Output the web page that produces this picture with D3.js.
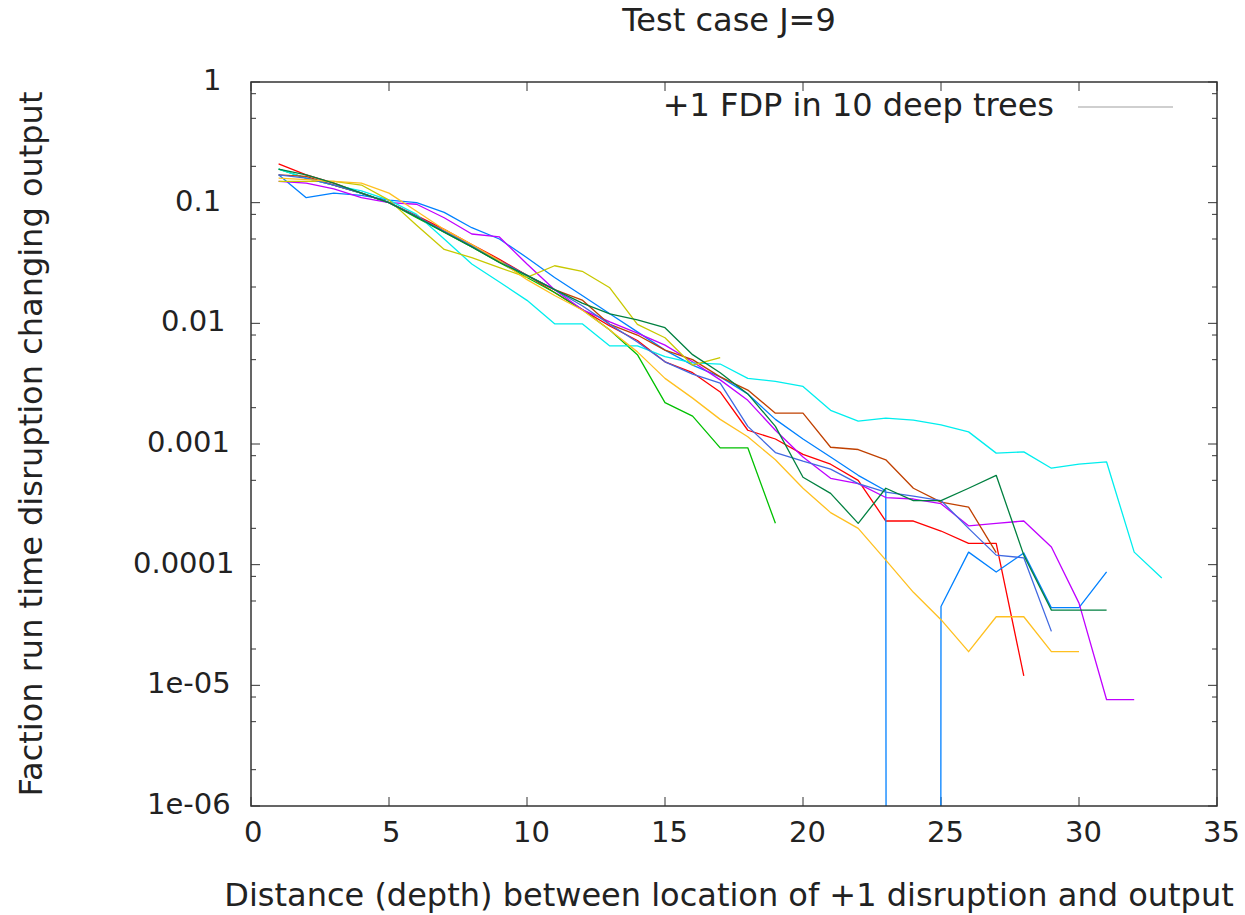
<!DOCTYPE html>
<html>
<head>
<meta charset="utf-8">
<script src="https://cdn.jsdelivr.net/npm/d3@7"></script>
<style>
  body { margin: 0; background: #fff; }
  svg text { font-family: "DejaVu Sans", sans-serif; fill: #222; }
</style>
</head>
<body>
<div id="chart"></div>
<script>
// depth (x) and fraction values for each of the 10 trees
var depths = [1,2,3,4,5,6,7,8,9,10,11,12,13,14,15,16,17,18,19,20,21,22,23,24,25,26,27,28,29,30,31,32,33]

var redVals = [0.21,0.17,0.145,0.12,0.10,0.078,0.06,0.045,0.034,0.025,0.018,0.013,0.0095,0.0072,0.0048,0.0039,0.0027,0.0013,0.0011,0.00082,0.00068,0.0005,0.00023,0.00023,0.00019,0.00015,0.00015,0.000012]
var greenVals = [0.19,0.16,0.14,0.12,0.10,0.075,0.057,0.043,0.032,0.024,0.018,0.013,0.0088,0.0055,0.0022,0.0017,0.00093,0.00093,0.00022]
var blueVals = [0.17,0.11,0.12,0.115,0.105,0.1,0.083,0.062,0.05,0.035,0.024,0.017,0.012,0.0085,0.006,0.0045,0.0036,0.0026,0.0016,0.0011,0.00078,0.00055,0.00041,0,0.000045,0.000127,0.000087,0.000125,0.000044,0.000044,0.000087]
var magentaVals = [0.15,0.145,0.13,0.11,0.1,0.097,0.075,0.055,0.052,0.031,0.019,0.013,0.0103,0.0083,0.0066,0.0048,0.0034,0.0023,0.0013,0.00078,0.00052,0.00047,0.00036,0.00035,0.00032,0.00021,0.00022,0.00023,0.00014,0.000048,0.0000076,0.0000076]
var cyanVals = [0.19,0.16,0.14,0.125,0.105,0.08,0.05,0.031,0.022,0.0155,0.0099,0.0099,0.0065,0.0065,0.0053,0.0047,0.0046,0.0035,0.0033,0.0030,0.0019,0.00155,0.00164,0.00158,0.00144,0.00126,0.00084,0.00086,0.00063,0.00068,0.00071,0.000127,0.0000776]
var brownVals = [0.17,0.165,0.14,0.12,0.1,0.077,0.058,0.044,0.033,0.025,0.019,0.0156,0.0098,0.008,0.006,0.005,0.0036,0.0028,0.0018,0.0018,0.00094,0.0009,0.00074,0.00043,0.00033,0.0003,0.000126]
var oliveVals = [0.15,0.15,0.15,0.14,0.105,0.065,0.041,0.035,0.029,0.024,0.030,0.027,0.0197,0.0098,0.0076,0.0045,0.0052]
var royalVals = [0.17,0.16,0.14,0.12,0.1,0.077,0.058,0.044,0.033,0.025,0.019,0.014,0.0098,0.007,0.0048,0.0038,0.0032,0.0014,0.00085,0.00072,0.00062,0.00047,0.0004,0.00037,0.00034,0.0002,0.00012,0.000114,0.000028]
var orangeVals = [0.16,0.155,0.15,0.145,0.12,0.085,0.06,0.045,0.033,0.023,0.017,0.0129,0.0088,0.0058,0.0035,0.0024,0.0016,0.00115,0.00074,0.00043,0.00027,0.0002,0.000109,0.000059,0.000035,0.000019,0.000037,0.000037,0.000019,0.000019]
var darkGreenVals = [0.19,0.17,0.145,0.12,0.1,0.076,0.057,0.043,0.032,0.025,0.019,0.0147,0.012,0.0107,0.0092,0.0055,0.0039,0.0026,0.0014,0.00053,0.00039,0.00022,0.00043,0.00034,0.00034,0.00043,0.00055,0.00012,0.000042,0.000042,0.000042]

var seriesVals = [redVals, greenVals, blueVals, magentaVals, cyanVals, brownVals, oliveVals, royalVals, orangeVals, darkGreenVals]
var seriesColors = ["#ff0000", "#00c000", "#0080ff", "#c000ff", "#00eeee", "#c04000", "#c8c800", "#4169e1", "#ffc020", "#008040"]

var xTicks = [0, 5, 10, 15, 20, 25, 30, 35]
var yTicks = [1, 0.1, 0.01, 0.001, 0.0001, 0.00001, 0.000001]
var yTickLabels = ["1", "0.1", "0.01", "0.001", "0.0001", "1e-05", "1e-06"]
var yMinorFactors = [0.8, 0.5, 0.2]

var titleText = "Test case J=9"
var xLabel = "Distance (depth) between location of +1 disruption and output"
var yLabel = "Faction run time disruption changing output"
var legendText = "+1 FDP in 10 deep trees"

var width = 1245
var height = 915
var margins = ({top: 82, right: 28, bottom: 109, left: 251})
var tickFont = 29
var labelFont = 32
// gnuplot-style justification: labels are placed by a fixed per-char width
var charW = 14

var svg = d3.select("#chart").append("svg")
    .attr("width", width)
    .attr("height", height)

var x = d3.scaleLinear()
    .domain([0, 35])
    .range([margins.left, width - margins.right])
var y = d3.scaleLog()
    .domain([1e-6, 1])
    .range([height - margins.bottom, margins.top])

var plotLeft = x.range()[0], plotRight = x.range()[1]
var plotTop = y.range()[1], plotBottom = y.range()[0]

svg.append("clipPath").attr("id", "plot-clip")
    .append("rect")
    .attr("x", plotLeft).attr("y", plotTop)
    .attr("width", plotRight - plotLeft).attr("height", plotBottom - plotTop)

// ticks, drawn inward on all four sides
var tickColor = "#333"
var majorLen = 9, minorLen = 5
var ticksG = svg.append("g")
xTicks.forEach(function(t) {
    ticksG.append("line").attr("x1", x(t)).attr("x2", x(t)).attr("y1", plotBottom).attr("y2", plotBottom - majorLen).attr("stroke", tickColor)
    ticksG.append("line").attr("x1", x(t)).attr("x2", x(t)).attr("y1", plotTop).attr("y2", plotTop + majorLen).attr("stroke", tickColor)
})
yTicks.forEach(function(t) {
    ticksG.append("line").attr("x1", plotLeft).attr("x2", plotLeft + majorLen).attr("y1", y(t)).attr("y2", y(t)).attr("stroke", tickColor)
    ticksG.append("line").attr("x1", plotRight).attr("x2", plotRight - majorLen).attr("y1", y(t)).attr("y2", y(t)).attr("stroke", tickColor)
    if (t > 1e-6) {
        yMinorFactors.forEach(function(f) {
            var v = t * f
            ticksG.append("line").attr("x1", plotLeft).attr("x2", plotLeft + minorLen).attr("y1", y(v)).attr("y2", y(v)).attr("stroke", tickColor)
            ticksG.append("line").attr("x1", plotRight).attr("x2", plotRight - minorLen).attr("y1", y(v)).attr("y2", y(v)).attr("stroke", tickColor)
        })
    }
})

// tick labels
svg.selectAll(".xlab").data(xTicks).enter().append("text")
    .attr("class", "xlab")
    .attr("x", d => x(d) - String(d).length * charW / 2)
    .attr("y", plotBottom + 28)
    .attr("dominant-baseline", "middle")
    .style("font-size", tickFont + "px")
    .text(d => d)

svg.selectAll(".ylab").data(yTicks).enter().append("text")
    .attr("class", "ylab")
    .attr("x", (d, i) => plotLeft - 34 - yTickLabels[i].length * charW)
    .attr("y", d => y(d))
    .attr("dominant-baseline", "middle")
    .style("font-size", tickFont + "px")
    .text((d, i) => yTickLabels[i])

// series lines; a zero value drops off the bottom of the log axis
var line = d3.line()
    .x((d, i) => x(depths[i]))
    .y(d => d > 0 ? y(d) : y(1e-300))

var linesG = svg.append("g").attr("clip-path", "url(#plot-clip)")
seriesVals.forEach(function(vals, i) {
    linesG.append("path")
        .datum(vals)
        .attr("fill", "none")
        .attr("stroke", seriesColors[i])
        .attr("stroke-width", 1.3)
        .attr("stroke-linejoin", "round")
        .attr("d", line)
})

// border
svg.append("rect")
    .attr("x", plotLeft).attr("y", plotTop)
    .attr("width", plotRight - plotLeft).attr("height", plotBottom - plotTop)
    .attr("fill", "none")
    .attr("stroke", "#333")
    .attr("stroke-width", 1.5)

// legend
svg.append("text")
    .attr("x", 1054)
    .attr("y", 107)
    .attr("text-anchor", "end")
    .attr("dominant-baseline", "middle")
    .style("font-size", labelFont + "px")
    .text(legendText)
svg.append("line")
    .attr("x1", 1078).attr("x2", 1173)
    .attr("y1", 107).attr("y2", 107)
    .attr("stroke", "#a0a0a0")
    .attr("stroke-width", 1.2)

// title and axis labels
svg.append("text")
    .attr("x", 729)
    .attr("y", 22)
    .attr("text-anchor", "middle")
    .attr("dominant-baseline", "middle")
    .style("font-size", labelFont + "px")
    .text(titleText)

svg.append("text")
    .attr("x", 729)
    .attr("y", 897)
    .attr("text-anchor", "middle")
    .attr("dominant-baseline", "middle")
    .style("font-size", labelFont + "px")
    .text(xLabel)

svg.append("text")
    .attr("transform", `translate(33,${(plotTop + plotBottom) / 2}) rotate(-90)`)
    .attr("text-anchor", "middle")
    .attr("dominant-baseline", "middle")
    .style("font-size", labelFont + "px")
    .text(yLabel)
</script>
</body>
</html>
